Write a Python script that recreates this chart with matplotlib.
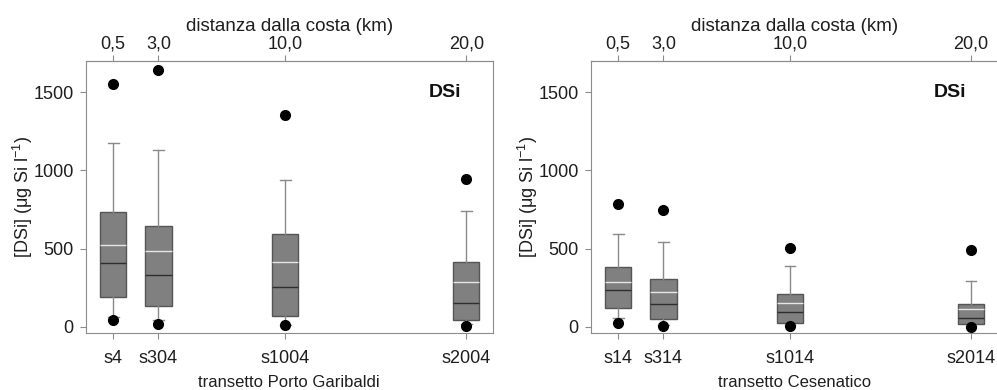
import matplotlib
matplotlib.use("Agg")
import matplotlib.pyplot as plt

plt.rcParams["font.family"] = ["Liberation Sans", "DejaVu Sans"]
plt.rcParams["mathtext.fontset"] = "custom"
plt.rcParams["mathtext.rm"] = "Liberation Sans"

# distance from the coast (km) and station names
dist_km = [0.5, 3.0, 10.0, 20.0]
dist_labels = ["0,5", "3,0", "10,0", "20,0"]

pg_stations = ["s4", "s304", "s1004", "s2004"]
pg_whislo = [64, 45, 13, 19]
pg_q1 = [188, 130, 70, 43]
pg_med = [407, 331, 252, 151]
pg_mean = [523, 484, 412, 284]
pg_q3 = [732, 644, 593, 414]
pg_whishi = [1175, 1131, 939, 738]
pg_fliers = [[40, 1555], [19, 1643], [8, 1355], [4, 945]]

ce_stations = ["s14", "s314", "s1014", "s2014"]
ce_whislo = [53, 13, 8, 6]
ce_q1 = [122, 49, 26, 19]
ce_med = [237, 147, 94, 58]
ce_mean = [288, 222, 151, 113]
ce_q3 = [382, 305, 211, 143]
ce_whishi = [591, 542, 386, 290]
ce_fliers = [[26, 783], [4, 749], [4, 501], [0, 493]]

SPINE = "#8c8c8c"
TXT = "#1e1e1e"


def draw_panel(ax, stations, whislo, q1, med, mean, q3, whishi, fliers, xlabel, xmax, dsi_x):
    stats = []
    for i in range(len(stations)):
        stats.append(dict(whislo=whislo[i], q1=q1[i], med=med[i], mean=mean[i],
                          q3=q3[i], whishi=whishi[i], fliers=fliers[i]))
    ax.bxp(stats, positions=dist_km, widths=1.45, capwidths=0.6,
           patch_artist=True, showmeans=True, meanline=True,
           boxprops=dict(facecolor="#808080", edgecolor="#555555", linewidth=1.0),
           medianprops=dict(color="#2e2e2e", linewidth=1.0),
           meanprops=dict(color="#e6e6e6", linestyle="-", linewidth=1.0),
           whiskerprops=dict(color="#8a8a8a", linewidth=1.0),
           capprops=dict(color="#8a8a8a", linewidth=1.0),
           flierprops=dict(marker="o", markerfacecolor="black",
                           markeredgecolor="black", markersize=7))
    ax.set_xlim(-1.0, xmax)
    ax.set_ylim(-40, 1700)
    ax.set_yticks([0, 500, 1000, 1500])
    ax.set_xticks(dist_km)
    ax.set_xticklabels(stations)
    ax.set_xlabel(xlabel, fontsize=12, color=TXT, labelpad=6)
    ax.set_ylabel("[DSi] (\u03bcg Si l$^{-1}$)", fontsize=13, color=TXT, labelpad=-1)
    for s in ax.spines.values():
        s.set_color(SPINE)
    ax.tick_params(axis="both", direction="out", length=4, color=SPINE,
                   labelsize=13, labelcolor=TXT, pad=5)
    ax.tick_params(axis="x", pad=8)
    ax.text(dsi_x, 0.883, "DSi", transform=ax.transAxes, ha="right", va="center",
            fontsize=14, fontweight="bold", color="#111111")

    top = ax.secondary_xaxis("top")
    top.set_xticks(dist_km)
    top.set_xticklabels(dist_labels)
    top.spines["top"].set_color(SPINE)
    top.tick_params(direction="out", length=4, color=SPINE,
                    labelsize=13, labelcolor=TXT, pad=2)
    top.set_xlabel("distanza dalla costa (km)", fontsize=13.5, color=TXT, labelpad=3)


fig = plt.figure(figsize=(9.97, 3.9), dpi=100)
ax1 = fig.add_axes([0.0863, 0.1462, 0.4077, 0.6974])
ax2 = fig.add_axes([0.5928, 0.1462, 0.4092, 0.6974])

draw_panel(ax1, pg_stations, pg_whislo, pg_q1, pg_med, pg_mean, pg_q3,
           pg_whishi, pg_fliers, "transetto Porto Garibaldi", 21.45, 0.922)
draw_panel(ax2, ce_stations, ce_whislo, ce_q1, ce_med, ce_mean, ce_q3,
           ce_whishi, ce_fliers, "transetto Cesenatico", 21.55, 0.919)

fig.savefig("out.png", dpi=100)
